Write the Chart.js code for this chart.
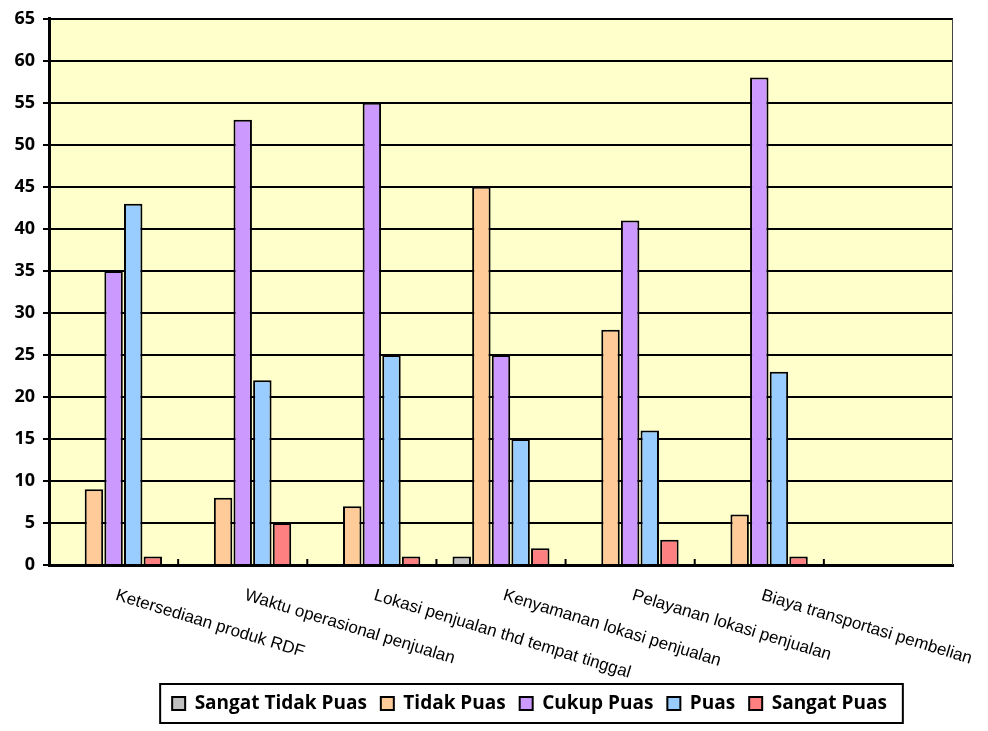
<!DOCTYPE html>
<html>
<head>
<meta charset="utf-8">
<script src="https://cdn.jsdelivr.net/npm/chart.js@4/dist/chart.umd.min.js"></script>
<style>
  html, body { margin: 0; padding: 0; background: #fff; }
  #wrap { width: 988px; height: 731px; }
</style>
</head>
<body>
<div id="wrap"><canvas id="chart" width="988" height="731"></canvas></div>
<script>
// Data
const categories = [
  'Ketersediaan produk RDF',
  'Waktu operasional penjualan',
  'Lokasi penjualan thd tempat tinggal',
  'Kenyamanan lokasi penjualan',
  'Pelayanan lokasi penjualan',
  'Biaya transportasi pembelian',
  ''
];
const seriesNames = ['Sangat Tidak Puas', 'Tidak Puas', 'Cukup Puas', 'Puas', 'Sangat Puas'];
const sangatTidakPuas = [0, 0, 0, 1, 0, 0, null];
const tidakPuas = [9, 8, 7, 45, 28, 6, null];
const cukupPuas = [35, 53, 55, 25, 41, 58, null];
const puas = [43, 22, 25, 15, 16, 23, null];
const sangatPuas = [1, 5, 1, 2, 3, 1, null];
const yMin = 0, yMax = 65, yStep = 5;

const seriesColors = ['#C0C0C0', '#FFCC99', '#CC99FF', '#99CCFF', '#FF8080'];
const seriesValues = [sangatTidakPuas, tidakPuas, cukupPuas, puas, sangatPuas];

const boldFont = '"Open Sans", "Noto Sans", sans-serif';

// plot background, rotated category labels, small tick marks, legend frame
const decorPlugin = {
  id: 'decor',
  afterLayout(chart) {
    // legend sits a bit right of centre in the original
    chart.legend.left += 53;
    chart.legend.right += 53;
  },
  beforeDraw(chart) {
    const { ctx, chartArea: a } = chart;
    ctx.save();
    ctx.fillStyle = '#FFFFCC';
    ctx.fillRect(a.left, a.top, a.right - a.left, a.bottom - a.top);
    ctx.restore();
  },
  afterDatasetsDraw(chart) {
    const { ctx, chartArea: a } = chart;
    const x = chart.scales.x;
    ctx.save();
    // right border of plot
    ctx.strokeStyle = '#444';
    ctx.lineWidth = 1;
    ctx.beginPath();
    ctx.moveTo(a.right - 0.5, a.top);
    ctx.lineTo(a.right - 0.5, a.bottom);
    ctx.stroke();
    // tick marks between categories
    ctx.strokeStyle = '#000';
    ctx.lineWidth = 2;
    for (let i = 0; i < categories.length - 1; i++) {
      const px = (x.getPixelForValue(i) + x.getPixelForValue(i + 1)) / 2;
      ctx.beginPath();
      ctx.moveTo(px, a.bottom);
      ctx.lineTo(px, a.bottom - 6);
      ctx.stroke();
    }
    ctx.restore();
  },
  afterDraw(chart) {
    const { ctx, chartArea: a } = chart;
    const x = chart.scales.x;
    ctx.save();
    ctx.fillStyle = '#000';
    ctx.font = '17px "Liberation Sans", Arial, sans-serif';
    ctx.textBaseline = 'top';
    ctx.textAlign = 'left';
    categories.forEach((c, i) => {
      if (!c) return;
      ctx.save();
      ctx.translate(x.getPixelForValue(i) + 5, a.bottom + 22);
      ctx.rotate(17 * Math.PI / 180);
      ctx.fillText(c, 0, 0);
      ctx.restore();
    });
    // legend frame
    const boxes = chart.legend.legendHitBoxes;
    if (boxes && boxes.length) {
      const l = Math.min(...boxes.map(b => b.left));
      const r = Math.max(...boxes.map(b => b.left + b.width));
      const t = Math.min(...boxes.map(b => b.top));
      const btm = Math.max(...boxes.map(b => b.top + b.height));
      ctx.strokeStyle = '#000';
      ctx.lineWidth = 2;
      ctx.strokeRect(l - 12, t - 10, r - l + 28, btm - t + 20);
    }
    ctx.restore();
  }
};

new Chart(document.getElementById('chart'), {
  type: 'bar',
  data: {
    labels: categories,
    datasets: seriesNames.map((name, k) => ({
      label: name,
      data: seriesValues[k],
      backgroundColor: seriesColors[k],
      borderColor: '#000',
      borderWidth: 2,
      categoryPercentage: 0.76,
      barPercentage: 0.94
    }))
  },
  options: {
    responsive: false,
    animation: false,
    layout: { padding: { left: 0, right: 35, top: 18, bottom: 8 } },
    scales: {
      x: {
        ticks: { display: false },
        grid: { display: false },
        border: { display: true, color: '#000', width: 3 },
        afterFit(scale) { scale.height = 115; }
      },
      y: {
        min: yMin,
        max: yMax,
        ticks: {
          stepSize: yStep,
          color: '#000',
          padding: 8,
          font: { family: boldFont, size: 18, weight: 'bold' }
        },
        grid: { color: '#000', lineWidth: 2, tickLength: 6 },
        border: { display: true, color: '#000', width: 3 },
        afterFit(scale) { scale.width = 49; }
      }
    },
    plugins: {
      legend: {
        position: 'bottom',
        labels: {
          color: '#000',
          boxWidth: 13,
          boxHeight: 13,
          padding: 14,
          font: { family: boldFont, size: 19, weight: 'bold' }
        }
      },
      tooltip: { enabled: false }
    }
  },
  plugins: [decorPlugin]
});
</script>
</body>
</html>
